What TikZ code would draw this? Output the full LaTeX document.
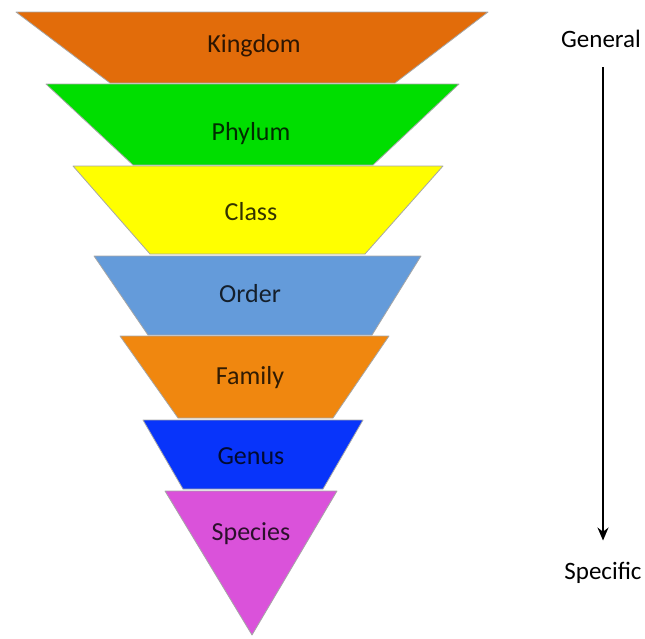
\documentclass[tikz,border=0pt]{standalone}
\usepackage{fontspec}
\setmainfont{Carlito}
\usetikzlibrary{arrows.meta}
\definecolor{kingdomc}{RGB}{226,108,10}
\definecolor{phylumc}{RGB}{0,222,0}
\definecolor{classc}{RGB}{255,255,0}
\definecolor{orderc}{RGB}{100,155,218}
\definecolor{familyc}{RGB}{240,135,15}
\definecolor{genusc}{RGB}{8,52,250}
\definecolor{speciesc}{RGB}{218,82,218}
\begin{document}
\begin{tikzpicture}[x=1pt,y=-1pt,
layer/.style={draw=gray!70,line width=0.8pt,line join=round},
rank/.style={anchor=base,inner sep=0pt,font=\fontsize{26}{30}\selectfont,text opacity=0.8},
side/.style={anchor=base,inner sep=0pt,font=\fontsize{25}{30}\selectfont}]
\useasboundingbox (0,0) rectangle (645,638);
\filldraw[layer,fill=kingdomc] (16,12) -- (488,12) -- (395,83) -- (110,83) -- cycle;
\filldraw[layer,fill=phylumc] (46,84) -- (459,84) -- (373,165) -- (133,165) -- cycle;
\filldraw[layer,fill=classc] (73,166) -- (443,166) -- (365,254) -- (150,254) -- cycle;
\filldraw[layer,fill=orderc] (94,256) -- (421,256) -- (372,335) -- (148,335) -- cycle;
\filldraw[layer,fill=familyc] (120,336) -- (389,336) -- (333,418) -- (178,418) -- cycle;
\filldraw[layer,fill=genusc] (143,420) -- (363,420) -- (323,489) -- (183,489) -- cycle;
\filldraw[layer,fill=speciesc] (165,491) -- (337,491) -- (252,635) -- cycle;
\node[rank] (kingdom) at (254,52) {Kingdom};
\node[rank] (phylum) at (251,140) {Phylum};
\node[rank] (class) at (251,220) {Class};
\node[rank] (order) at (250,302) {Order};
\node[rank] (family) at (250,384) {Family};
\node[rank] (genus) at (251,464) {Genus};
\node[rank] (species) at (251,540) {Species};
\node[side] (general) at (601,47) {General};
\node[side] (specific) at (603,579) {Specific};
\draw[line width=1.6pt,-{Stealth[length=13pt,width=11pt]}] ([yshift=-20pt]general.south -| 603,0) -- ([yshift=21pt]specific.north);
\end{tikzpicture}
\end{document}
